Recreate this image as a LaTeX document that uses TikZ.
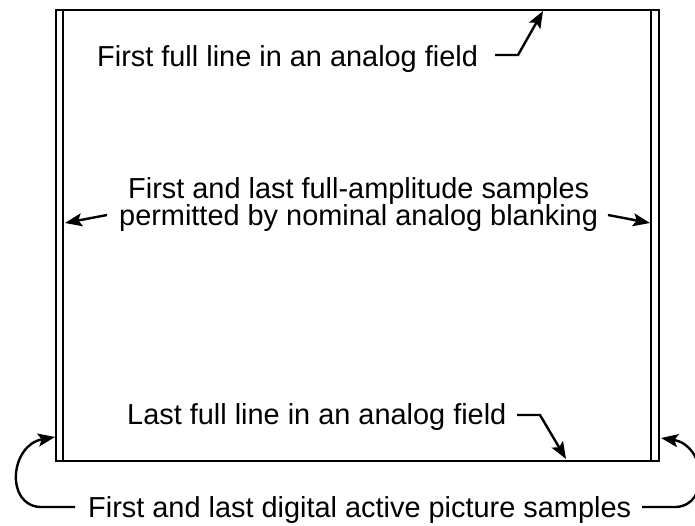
\documentclass[tikz,border=0pt]{standalone}
\usepackage{fontspec}
\setmainfont{Liberation Sans}
\usetikzlibrary{arrows.meta}
\begin{document}
\begin{tikzpicture}[x=1pt,y=-1pt,
  lbl/.style={inner sep=0pt,anchor=base west,font=\fontsize{28.9}{33}\selectfont},
  frame/.style={line width=2pt},
  ptr/.style={line width=2.4pt,-{Stealth[length=17pt,width=13pt,inset=3.5pt]}}]
\useasboundingbox (0,0) rectangle (695,525);
% frame
\draw[frame] (56,10) rectangle (659,461);
\draw[frame] (63,10) -- (63,461);
\draw[frame] (651,10) -- (651,461);
% labels
\node[lbl] (t1) at (97,66) {First full line in an analog field};
\node[lbl] (t2) at (128,198) {First and last full-amplitude samples};
\node[lbl] (t3) at (119,225) {permitted by nominal analog blanking};
\node[lbl] (t4) at (127,424) {Last full line in an analog field};
\node[lbl] (t5) at (88,517) {First and last digital active picture samples};
% coordinates
\coordinate (a1s) at (495,55);
\coordinate (a1m) at (518,55);
\coordinate (a1e) at (543,11);
\coordinate (a2s) at (107,215);
\coordinate (a2e) at (65,223);
\coordinate (a3s) at (608,215);
\coordinate (a3e) at (650,223);
\coordinate (a4s) at (517,415);
\coordinate (a4m) at (540,415);
\coordinate (a4e) at (566,459);
\coordinate (a5s) at (75,507);
\coordinate (a5m) at (40,507);
\coordinate (a5e) at (55,437);
\coordinate (a6s) at (642,507);
\coordinate (a6m) at (676,507);
\coordinate (a6e) at (661,438);
% arrows
\draw[ptr] (a1s) -- (a1m) -- (a1e);
\draw[ptr] (a2s) -- (a2e);
\draw[ptr] (a3s) -- (a3e);
\draw[ptr] (a4s) -- (a4m) -- (a4e);
\draw[ptr] (a5s) -- (a5m) .. controls (5,505) and (10,445) .. (a5e);
\draw[ptr] (a6s) -- (a6m) .. controls (711,505) and (706,445) .. (a6e);
\end{tikzpicture}
\end{document}
